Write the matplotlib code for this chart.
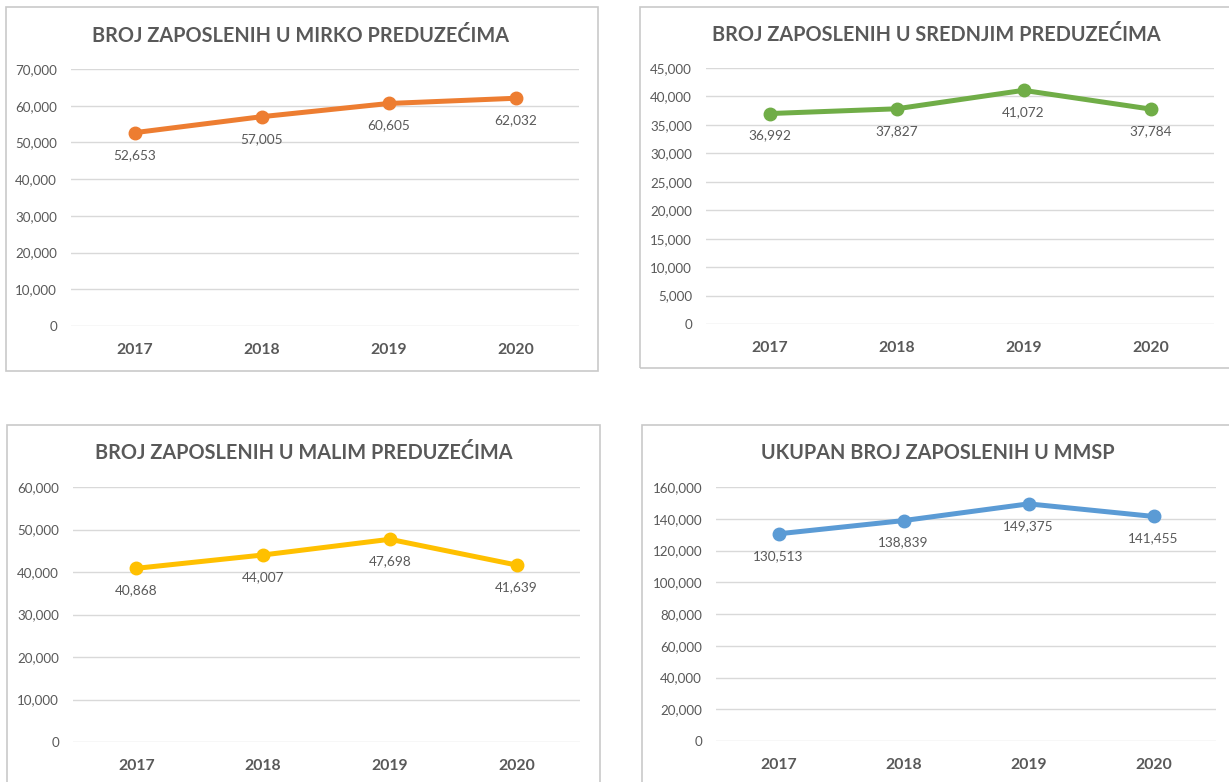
import matplotlib
matplotlib.use("Agg")
import matplotlib.pyplot as plt
from matplotlib.patches import Rectangle
from matplotlib.ticker import FuncFormatter

plt.rcParams["font.family"] = ["Lato", "DejaVu Sans"]

# ---------- data ----------
years = ["2017", "2018", "2019", "2020"]
mikro = [52653, 57005, 60605, 62032]
srednja = [36992, 37827, 41072, 37784]
mala = [40868, 44007, 47698, 41639]
ukupno = [130513, 138839, 149375, 141455]

titles = [
    "BROJ ZAPOSLENIH U MIRKO PREDUZEĆIMA",
    "BROJ ZAPOSLENIH U SREDNJIM PREDUZEĆIMA",
    "BROJ ZAPOSLENIH U MALIM PREDUZEĆIMA",
    "UKUPAN BROJ ZAPOSLENIH U MMSP",
]
series = [mikro, srednja, mala, ukupno]
ymax = [70000, 45000, 60000, 160000]
ystep = [10000, 5000, 10000, 20000]

# ---------- layout (pixels in a 1229x782 canvas) ----------
W, H = 1229, 782
COLORS = ["#ED7D31", "#70AD47", "#FFC000", "#5B9BD5"]
TEXT = "#595959"
GRID = "#D9D9D9"

# box: left, top, right, bottom ; plot: left, top(ymax), right, bottom(0) ; title center
boxes = [(6, 7, 598, 371), (640, 7, 1235, 368), (7, 425, 600, 790), (642, 425, 1235, 790)]
plots = [(71, 69, 579, 326), (706, 68, 1214, 324), (73, 487, 580, 742), (716, 487, 1216, 741)]
title_pos = [(301, 36), (936, 35), (304, 453), (938, 453)]

fig = plt.figure(figsize=(W / 100, H / 100), dpi=100)
fig.patch.set_facecolor("white")

thousands = FuncFormatter(lambda v, p: f"{int(v):,}")

for i in range(4):
    bl, bt, br, bb = boxes[i]
    fig.patches.append(Rectangle((bl / W, 1 - bb / H), (br - bl) / W, (bb - bt) / H,
                                 transform=fig.transFigure, fill=False,
                                 edgecolor="#C9C9C9", linewidth=1.2))

    pl, pt, pr, pb = plots[i]
    ax = fig.add_axes([pl / W, 1 - pb / H, (pr - pl) / W, (pb - pt) / H])
    x = list(range(len(years)))
    ax.plot(x, series[i], color=COLORS[i], linewidth=3.6, marker="o",
            markersize=9, solid_capstyle="round", zorder=3)
    for xi, v in zip(x, series[i]):
        ax.annotate(f"{v:,}", (xi, v), xytext=(0, -22), textcoords="offset pixels",
                    ha="center", va="center", fontsize=9.8, color=TEXT)

    ax.set_xlim(-0.5, len(years) - 0.5)
    ax.set_ylim(0, ymax[i])
    ax.set_yticks(range(0, ymax[i] + 1, ystep[i]))
    ax.yaxis.set_major_formatter(thousands)
    ax.set_xticks(x)
    ax.set_xticklabels(years, fontsize=11.3, fontweight="bold", color=TEXT)
    ax.tick_params(axis="y", length=0, pad=10, labelsize=9.6, labelcolor=TEXT)
    ax.tick_params(axis="x", length=0, pad=12.5)
    ax.grid(axis="y", color=GRID, linewidth=1)
    ax.set_axisbelow(True)
    for s in ax.spines.values():
        s.set_visible(False)
    ax.patch.set_alpha(0)

    tx, ty = title_pos[i]
    fig.text(tx / W, 1 - ty / H, titles[i], ha="center", va="center",
             fontsize=14.3, fontweight="bold", color=TEXT)

fig.savefig("out.png", dpi=100)
